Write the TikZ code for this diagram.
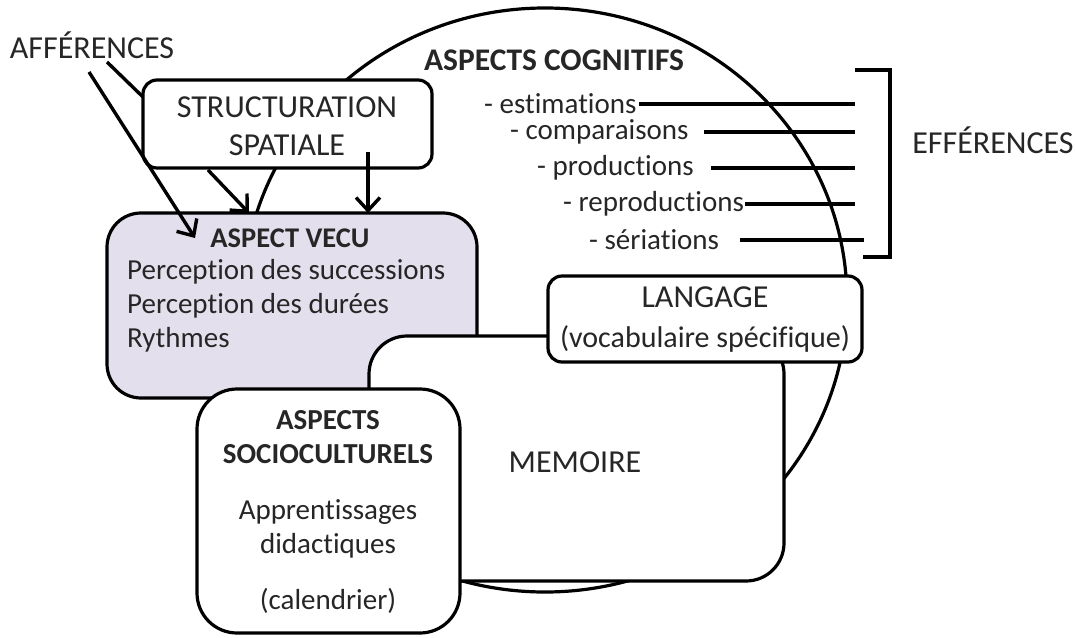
\documentclass[tikz,border=0pt]{standalone}
\usepackage{fontspec}
\setmainfont{Carlito}[Ligatures=NoCommon]
\usetikzlibrary{arrows.meta,positioning,shapes.geometric}
\definecolor{vecufill}{RGB}{228,223,236}
\definecolor{ink}{RGB}{38,38,38}

\begin{document}
\begin{tikzpicture}[x=1pt,y=-1pt,
    box/.style={draw,line width=3.2pt,fill=white,inner sep=0pt},
    txt/.style={text=ink,font=\fontsize{29}{34}\selectfont,align=center},
    caps/.style={txt,font=\fontsize{32}{38}\selectfont},
    flow/.style={line width=3.4pt,-{Straight Barb[length=13pt,width=24pt]}}]
  \useasboundingbox (0,0) rectangle (1075,637);

  % cognitive circle
  \node[ellipse,draw,line width=3.2pt,minimum width=604pt,minimum height=584pt,inner sep=0pt] (cogn) at (545,300) {};
  \node[txt,font=\fontsize{31.5}{34}\selectfont\bfseries] (cognt) at (554,60) {ASPECTS COGNITIFS};

  \foreach \n/\t/\x/\y/\s/\e in {1/estimations/484/104/639/855,
                                 2/comparaisons/510/132/704/855,
                                 3/productions/537/168/711/855,
                                 4/reproductions/563/204/745/855,
                                 5/sériations/589/240/740/864} {
    \node[txt,anchor=west,inner sep=0pt] (item\n) at (\x,\y) {- \t};
    \coordinate (from\n) at (\s,\y);
    \coordinate (to\n) at (\e,\y);
    \draw[line width=3.2pt] (from\n) -- (to\n);
  }

  % bracket
  \draw[line width=3.2pt] (855,70) -- (890,70) -- (890,257) -- (863,257);
  \node[caps] (eff) at (993,140) {EFFÉRENCES};
  \node[caps] (aff) at (92,45) {AFFÉRENCES};

  % boxes
  \node[box,rounded corners=14pt,minimum width=289pt,minimum height=88pt] (struct) at (287.5,124) {};
  \node[caps] (structt) at (287,126) {STRUCTURATION\\SPATIALE};

  \node[box,fill=vecufill,rounded corners=34pt,minimum width=370pt,minimum height=185pt] (vecu) at (292,305.5) {};
  \node[txt,font=\fontsize{28.5}{34}\selectfont\bfseries] (vecut) at (290,238) {ASPECT VECU};
  \begin{scope}[every node/.style={txt,anchor=west,inner sep=0pt}]
    \node (v1) at (127,272) {Perception des successions};
    \node (v2) at (127,306) {Perception des durées};
    \node (v3) at (127,340) {Rythmes};
  \end{scope}

  \node[box,rounded corners=38pt,minimum width=415pt,minimum height=245pt] (mem) at (576.5,458.5) {};
  \node[caps] (memt) at (575,462) {MEMOIRE};

  \node[box,rounded corners=14pt,minimum width=314pt,minimum height=86pt] (lang) at (705,319) {};
  \node[txt,font=\fontsize{30}{40}\selectfont] (langt) at (705,320) {\fontsize{32}{40}\selectfont LANGAGE\\(vocabulaire spécifique)};

  \node[box,rounded corners=40pt,minimum width=263pt,minimum height=244pt] (socio) at (328.5,511) {};
  \node[txt] (sociot) at (328,512) {\textbf{ASPECTS}\\\textbf{SOCIOCULTURELS}\\[22pt]Apprentissages\\didactiques\\[22pt](calendrier)};

  % arrows
  \coordinate (a1) at (89,72);
  \coordinate (a1e) at (195,238);
  \coordinate (a2) at (107,62);
  \coordinate (a2e) at (143,97);
  \coordinate (s1) at (208,170);
  \coordinate (s1e) at (249,213);
  \coordinate (s2) at (368,152);
  \coordinate (s2e) at (368,213);
  \draw[flow] (a1) -- (a1e);
  \draw[line width=3.4pt] (a2) -- (a2e);
  \draw[flow] (s1) -- (s1e);
  \draw[flow] (s2) -- (s2e);
\end{tikzpicture}
\end{document}
